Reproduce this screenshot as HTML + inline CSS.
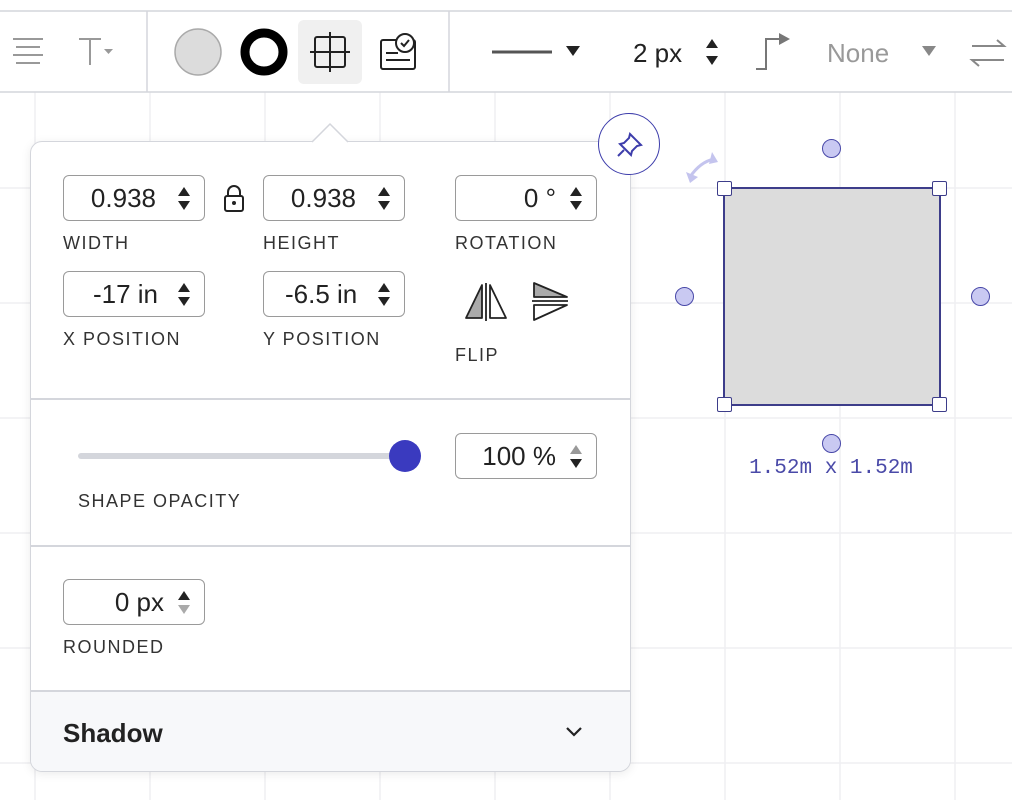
<!DOCTYPE html>
<html><head><style>
body{margin:0;width:1012px;height:800px;overflow:hidden;background:#fff;font-family:"Liberation Sans",sans-serif;position:relative}
.a{position:absolute}
.inp{position:absolute;border:1.5px solid #9a9a9a;border-radius:6px;height:46px;width:142px;box-sizing:border-box;font-size:26px;color:#222;line-height:44px}
.inp span{position:absolute;right:40px}
.inp i{position:absolute;right:14px;top:11px;width:0;height:0;border-left:6px solid transparent;border-right:6px solid transparent;border-bottom:9px solid #222}
.inp b{position:absolute;right:14px;top:25px;width:0;height:0;border-left:6px solid transparent;border-right:6px solid transparent;border-top:9px solid #222}
.lbl{position:absolute;font-size:18px;letter-spacing:1.5px;color:#333}
.sep{position:absolute;left:30px;width:601px;height:1.5px;background:#d4d6dc}
.h{position:absolute;width:13px;height:13px;background:#fff;border:1.5px solid #3d3d8a;border-radius:2px}
.c{position:absolute;width:19px;height:19px;border-radius:50%;background:#c9c9f2;border:1.5px solid #4848a8;box-sizing:border-box}
</style></head><body>
<svg class="a" style="left:0;top:0" width="1012" height="800">
<g stroke="#efeff2" stroke-width="1.5">
<line x1="35" y1="92" x2="35" y2="800"/><line x1="150" y1="92" x2="150" y2="800"/><line x1="265" y1="92" x2="265" y2="800"/><line x1="380" y1="92" x2="380" y2="800"/><line x1="495" y1="92" x2="495" y2="800"/><line x1="610" y1="92" x2="610" y2="800"/><line x1="725" y1="92" x2="725" y2="800"/><line x1="840" y1="92" x2="840" y2="800"/><line x1="955" y1="92" x2="955" y2="800"/>
<line x1="0" y1="188" x2="1012" y2="188"/><line x1="0" y1="303" x2="1012" y2="303"/><line x1="0" y1="418" x2="1012" y2="418"/><line x1="0" y1="533" x2="1012" y2="533"/><line x1="0" y1="648" x2="1012" y2="648"/><line x1="0" y1="763" x2="1012" y2="763"/>
</g>
<line x1="0" y1="11" x2="1012" y2="11" stroke="#d4d6dc" stroke-width="1.5"/>
<line x1="0" y1="92" x2="1012" y2="92" stroke="#d4d6dc" stroke-width="1.5"/>
<line x1="147" y1="11" x2="147" y2="92" stroke="#d4d6dc" stroke-width="1.5"/>
<line x1="449" y1="11" x2="449" y2="92" stroke="#d4d6dc" stroke-width="1.5"/>
<g stroke="#999" stroke-width="2"><line x1="13" y1="39" x2="43" y2="39"/><line x1="16" y1="47" x2="40" y2="47"/><line x1="13" y1="55" x2="43" y2="55"/><line x1="16" y1="63" x2="40" y2="63"/>
<line x1="79" y1="39" x2="101" y2="39"/><line x1="90" y1="39" x2="90" y2="65"/></g>
<path d="M104 49h9l-4.5 5z" fill="#999"/>
<circle cx="198" cy="52" r="23" fill="#dcdcdc" stroke="#aaa" stroke-width="1.5"/>
<circle cx="264" cy="52" r="19" fill="#fff" stroke="#000" stroke-width="9"/>
<rect x="298" y="20" width="64" height="64" rx="6" fill="#f0f0f0"/>
<g stroke="#222" stroke-width="2" fill="none"><rect x="315" y="37" width="30" height="30" rx="2"/><line x1="330" y1="32" x2="330" y2="72"/><line x1="310" y1="52" x2="350" y2="52"/>
<rect x="381" y="40" width="34" height="29" rx="2"/><line x1="386" y1="53" x2="398" y2="53"/><line x1="386" y1="60" x2="410" y2="60"/><circle cx="405" cy="43" r="9" fill="#fff"/><path d="M401 43l3 3 5-6"/>
<line x1="492" y1="52" x2="552" y2="52" stroke="#555" stroke-width="3"/>
<path d="M756 69h10v-30h18" stroke="#777"/></g>
<path d="M566 46h14l-7 10z" fill="#222"/>
<path d="M706 48h12l-6-9zM706 56h12l-6 9z" fill="#222"/>
<path d="M779 33l11 6-11 6z" fill="#777"/>
<path d="M922 46h14l-7 10z" fill="#888"/>
<g stroke="#888" stroke-width="2" fill="none"><path d="M972 46h32l-7-6M1004 60h-32l7 6"/></g>
<text x="633" y="62" font-size="26" fill="#222" font-family="Liberation Sans">2 px</text>
<text x="827" y="62" font-size="26" fill="#999" font-family="Liberation Sans">None</text>
<rect x="724" y="188" width="216" height="217" fill="#dcdcdc" stroke="#3d3d8a" stroke-width="2"/>
<path d="M690 177q10-15 24-18" stroke="#c4c4ee" stroke-width="3" fill="none"/><path d="M686 172l4 11 8-6zM712 152l6 10-9 2z" fill="#c4c4ee"/>
<text x="831" y="473" font-size="21" fill="#4a4aa8" text-anchor="middle" font-family="Liberation Mono">1.52m x 1.52m</text>
</svg>
<div class="h" style="left:717px;top:181px"></div><div class="h" style="left:932px;top:181px"></div>
<div class="h" style="left:717px;top:397px"></div><div class="h" style="left:932px;top:397px"></div>
<div class="c" style="left:822px;top:139px"></div><div class="c" style="left:675px;top:287px"></div><div class="c" style="left:971px;top:287px"></div><div class="c" style="left:822px;top:434px"></div>
<div class="a" style="left:30px;top:141px;width:601px;height:631px;border:1.5px solid #d4d6dc;border-radius:12px;box-sizing:border-box;background:#fff;box-shadow:0 2px 10px rgba(0,0,0,.08);overflow:hidden">
<div class="a" style="left:0;top:549px;width:100%;height:82px;background:#f7f8fa"></div>
</div>
<svg class="a" style="left:312px;top:122px" width="38" height="21"><path d="M0 20L18 2L36 20" fill="#fff" stroke="#d4d6dc" stroke-width="1.5"/></svg>
<div class="sep" style="top:398px"></div><div class="sep" style="top:545px"></div><div class="sep" style="top:690px"></div>
<div class="a" style="left:598px;top:113px;width:62px;height:62px;border-radius:50%;border:1.5px solid #3d3dab;background:#fff;box-sizing:border-box"></div>
<svg class="a" style="left:615px;top:130px" width="30" height="30"><g stroke="#3d3dab" stroke-width="2" fill="none"><path d="M15 4l11 11-4 1-5 5-1 4-11-11 4-1 5-5z"/><line x1="9" y1="20" x2="3" y2="26"/></g></svg>
<div class="inp" style="left:63px;top:175px"><span style="right:48px">0.938</span><i></i><b></b></div>
<svg class="a" style="left:222px;top:184px" width="24" height="30"><path d="M6 12V8a6 6 0 0 1 12 0v4" stroke="#222" stroke-width="2" fill="none"/><rect x="3" y="12" width="18" height="15" rx="2" fill="none" stroke="#222" stroke-width="2"/><circle cx="12" cy="19" r="2" fill="#222"/></svg>
<div class="inp" style="left:263px;top:175px"><span style="right:48px">0.938</span><i></i><b></b></div>
<div class="inp" style="left:455px;top:175px"><span>0 °</span><i></i><b></b></div>
<div class="lbl" style="left:63px;top:233px">WIDTH</div><div class="lbl" style="left:263px;top:233px">HEIGHT</div><div class="lbl" style="left:455px;top:233px">ROTATION</div>
<div class="inp" style="left:63px;top:271px"><span style="right:46px">-17 in</span><i></i><b></b></div>
<div class="inp" style="left:263px;top:271px;overflow:hidden"><span style="left:21px;right:auto;width:78px;overflow:hidden;white-space:nowrap">-6.5 in</span><i></i><b></b></div>
<div class="lbl" style="left:63px;top:329px">X POSITION</div><div class="lbl" style="left:263px;top:329px">Y POSITION</div>
<svg class="a" style="left:462px;top:280px" width="110" height="45"><g stroke="#222" stroke-width="1.8" stroke-linejoin="round"><path d="M20 5L4 38h16z" fill="#aaa"/><line x1="24" y1="3" x2="24" y2="41"/><path d="M28 5l16 33H28z" fill="#fff"/>
<path d="M72 3l33 14H72z" fill="#aaa"/><line x1="70" y1="21" x2="106" y2="21"/><path d="M72 25h33L72 40z" fill="#fff"/></g></svg>
<div class="lbl" style="left:455px;top:345px">FLIP</div>
<div class="a" style="left:78px;top:453px;width:327px;height:6px;border-radius:3px;background:#d4d6dc"></div>
<div class="a" style="left:389px;top:440px;width:32px;height:32px;border-radius:50%;background:#3a3abf"></div>
<div class="inp" style="left:455px;top:433px"><span>100 %</span><i style="border-bottom-color:#999"></i><b></b></div>
<div class="lbl" style="left:78px;top:491px">SHAPE OPACITY</div>
<div class="inp" style="left:63px;top:579px"><span>0 px</span><i></i><b style="border-top-color:#aaa"></b></div>
<div class="lbl" style="left:63px;top:637px">ROUNDED</div>
<div class="a" style="left:63px;top:718px;font-size:26px;font-weight:bold;color:#222">Shadow</div>
<svg class="a" style="left:565px;top:725px" width="18" height="14"><path d="M2 3l7 7 7-7" stroke="#222" stroke-width="2.2" fill="none"/></svg>
</body></html>
